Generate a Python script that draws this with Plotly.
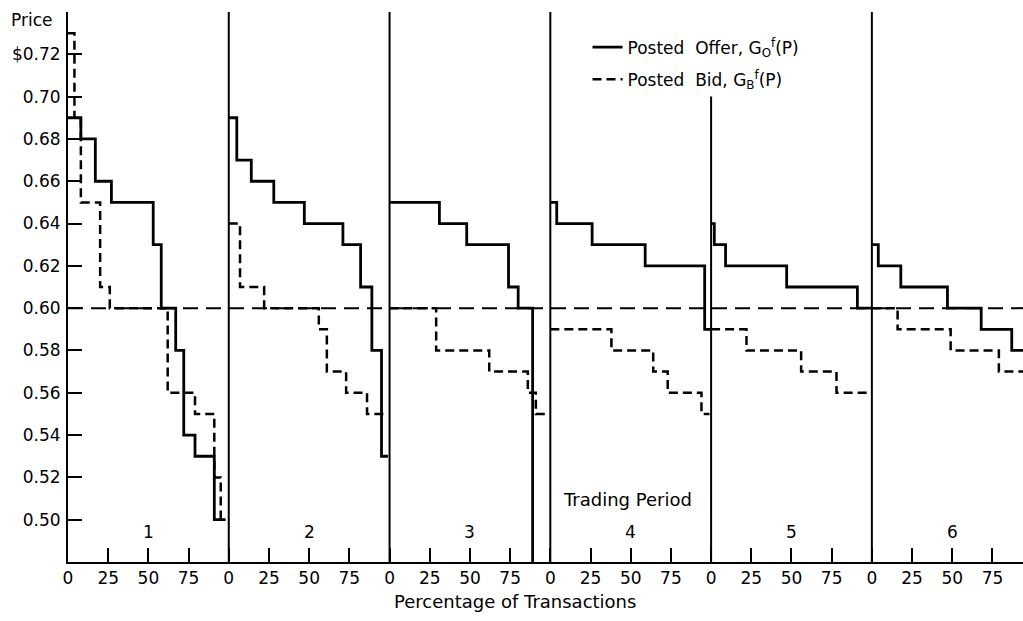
import plotly.graph_objects as go

# ---------------- data ----------------
# each period: percentage of transactions where a new price step begins, and the price
offer_p1_pct = [0, 8, 17, 27, 53, 58, 67, 72, 79, 91, 98]
offer_p1_price = [0.69, 0.68, 0.66, 0.65, 0.63, 0.60, 0.58, 0.54, 0.53, 0.50, 0.50]
offer_p2_pct = [0, 5, 14, 28, 47, 71, 82, 89, 95, 99]
offer_p2_price = [0.69, 0.67, 0.66, 0.65, 0.64, 0.63, 0.61, 0.58, 0.53, 0.53]
offer_p3_pct = [0, 31, 48, 74, 80, 89, 89]
offer_p3_price = [0.65, 0.64, 0.63, 0.61, 0.60, 0.60, 0.48]
offer_p4_pct = [0, 4, 26, 59, 96, 100]
offer_p4_price = [0.65, 0.64, 0.63, 0.62, 0.59, 0.59]
offer_p5_pct = [0, 2, 9, 47, 91, 100]
offer_p5_price = [0.64, 0.63, 0.62, 0.61, 0.60, 0.60]
offer_p6_pct = [0, 4, 18, 47, 68, 87, 100]
offer_p6_price = [0.63, 0.62, 0.61, 0.60, 0.59, 0.58, 0.58]

bid_p1_pct = [0, 4, 8, 20, 26, 62, 79, 91, 95, 98]
bid_p1_price = [0.73, 0.69, 0.65, 0.61, 0.60, 0.56, 0.55, 0.52, 0.50, 0.50]
bid_p2_pct = [0, 7, 22, 56, 61, 73, 86, 99]
bid_p2_price = [0.64, 0.61, 0.60, 0.59, 0.57, 0.56, 0.55, 0.55]
bid_p3_pct = [0, 29, 62, 86, 91, 97]
bid_p3_price = [0.60, 0.58, 0.57, 0.56, 0.55, 0.55]
bid_p4_pct = [0, 38, 64, 73, 94, 99]
bid_p4_price = [0.59, 0.58, 0.57, 0.56, 0.55, 0.55]
bid_p5_pct = [0, 22, 56, 78, 100]
bid_p5_price = [0.59, 0.58, 0.57, 0.56, 0.56]
bid_p6_pct = [0, 16, 49, 79, 100]
bid_p6_price = [0.60, 0.59, 0.58, 0.57, 0.57]

periods = ["1", "2", "3", "4", "5", "6"]
equilibrium_price = 0.60
separator_tops = [0.74, 0.74, 0.74, 0.70, 0.74]  # vertical lines starting periods 2..6

y_tickvals = [0.50, 0.52, 0.54, 0.56, 0.58, 0.60, 0.62, 0.64, 0.66, 0.68, 0.70, 0.72]
y_ticktext = ["0.50", "0.52", "0.54", "0.56", "0.58", "0.60", "0.62", "0.64",
              "0.66", "0.68", "0.70", "$0.72"]
x_tick_pcts = [0, 25, 50, 75]

Y_MIN, Y_MAX = 0.48, 0.74
X_MAX = 594

offer_pcts = [offer_p1_pct, offer_p2_pct, offer_p3_pct, offer_p4_pct, offer_p5_pct, offer_p6_pct]
offer_prices = [offer_p1_price, offer_p2_price, offer_p3_price, offer_p4_price, offer_p5_price, offer_p6_price]
bid_pcts = [bid_p1_pct, bid_p2_pct, bid_p3_pct, bid_p4_pct, bid_p5_pct, bid_p6_pct]
bid_prices = [bid_p1_price, bid_p2_price, bid_p3_price, bid_p4_price, bid_p5_price, bid_p6_price]


def build(pcts, prices):
    xs, ys = [], []
    for k, (pc, pr) in enumerate(zip(pcts, prices)):
        xs += [100 * k + v for v in pc] + [None]
        ys += list(pr) + [None]
    return xs, ys


FONT = "DejaVu Sans"
fig = go.Figure()

# equilibrium reference line
fig.add_trace(go.Scatter(x=[0, 600], y=[equilibrium_price, equilibrium_price], mode="lines",
                         line=dict(color="black", width=2, dash="15px,8px"),
                         showlegend=False, hoverinfo="skip"))

# period separators
sx, sy = [], []
for k, top in enumerate(separator_tops):
    sx += [100 * (k + 1), 100 * (k + 1), None]
    sy += [Y_MIN, top, None]
fig.add_trace(go.Scatter(x=sx, y=sy, mode="lines", line=dict(color="black", width=2),
                         showlegend=False, hoverinfo="skip"))

ox, oy = build(offer_pcts, offer_prices)
fig.add_trace(go.Scatter(x=ox, y=oy, mode="lines", line_shape="hv",
                         line=dict(color="black", width=2.8),
                         name="Posted  Offer, G<sub>O</sub><sup>f</sup>(P)",
                         legendgroup="o"))
bx, by = build(bid_pcts, bid_prices)
fig.add_trace(go.Scatter(x=bx, y=by, mode="lines", line_shape="hv",
                         line=dict(color="black", width=2.5, dash="9px,5px"),
                         name="Posted  Bid, G<sub>B</sub><sup>f</sup>(P)",
                         legendgroup="b"))

x_tickvals, x_ticktext = [], []
for k in range(6):
    for p in x_tick_pcts:
        x_tickvals.append(100 * k + p)
        x_ticktext.append(str(p))

annotations = []
for k, lab in enumerate(periods):
    annotations.append(dict(x=100 * k + 50, y=0.494, xref="x", yref="y", text=lab,
                            showarrow=False, font=dict(family=FONT, size=17, color="black")))
annotations.append(dict(x=348, y=0.5097, xref="x", yref="y", text="Trading Period",
                        showarrow=False, font=dict(family=FONT, size=18, color="black")))
annotations.append(dict(x=-0.062, y=0.985, xref="paper", yref="paper", text="Price",
                        xanchor="left", yanchor="middle", showarrow=False,
                        font=dict(family=FONT, size=17, color="black")))
annotations.append(dict(x=0.468, y=-0.071, xref="paper", yref="paper",
                        text="Percentage of Transactions", xanchor="center", yanchor="middle",
                        showarrow=False, font=dict(family=FONT, size=18, color="black")))

fig.update_layout(
    width=1023, height=621,
    margin=dict(l=68, r=0, t=12, b=59),
    paper_bgcolor="white", plot_bgcolor="white",
    font=dict(family=FONT, size=17, color="black"),
    showlegend=True,
    legend=dict(x=0.544, y=0.968, xanchor="left", yanchor="top",
                bgcolor="rgba(0,0,0,0)", tracegroupgap=7,
                font=dict(family=FONT, size=17, color="black")),
    annotations=annotations,
    xaxis=dict(range=[0, X_MAX], showgrid=False, zeroline=False,
               showline=True, linecolor="black", linewidth=2,
               ticks="inside", ticklen=14, tickwidth=2, tickcolor="black",
               tickvals=x_tickvals, ticktext=x_ticktext,
               tickfont=dict(family=FONT, size=17, color="black")),
    yaxis=dict(range=[Y_MIN, Y_MAX], showgrid=False, zeroline=False,
               showline=True, linecolor="black", linewidth=2,
               ticks="inside", ticklen=14, tickwidth=2, tickcolor="black",
               tickvals=y_tickvals, ticktext=y_ticktext, ticklabelstandoff=2,
               tickfont=dict(family=FONT, size=17, color="black")),
)

fig.write_html("out.html")
